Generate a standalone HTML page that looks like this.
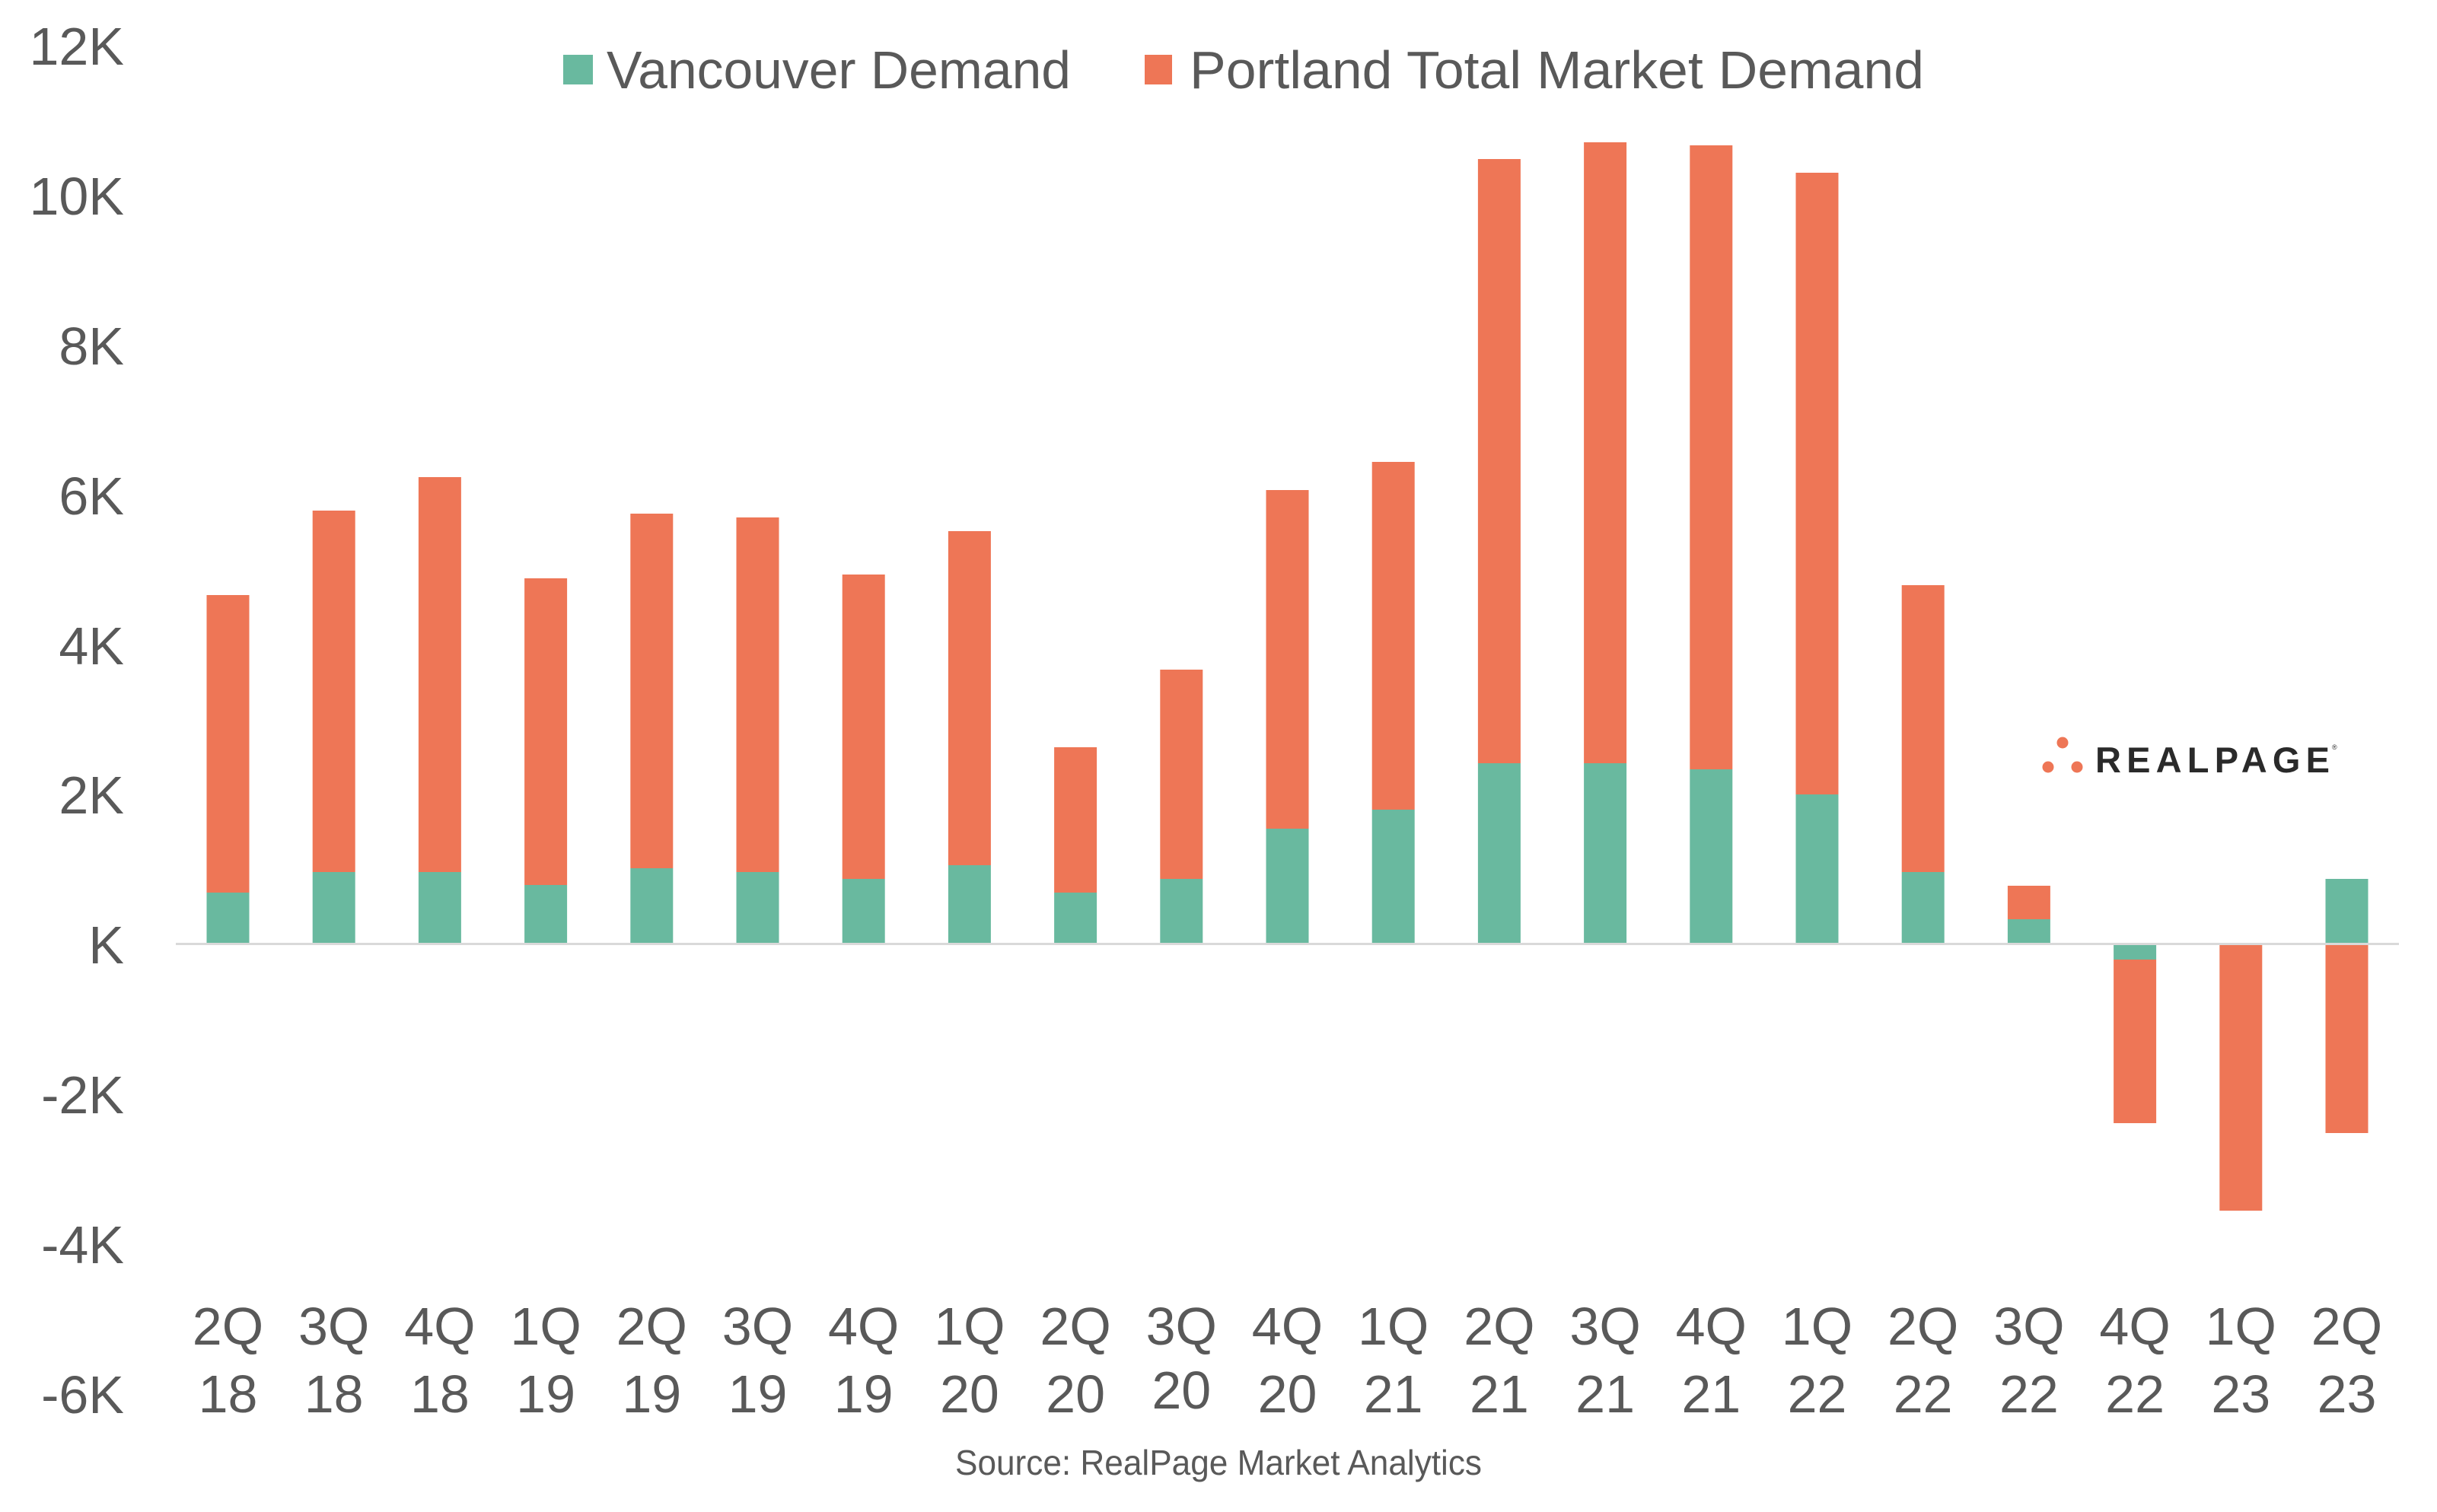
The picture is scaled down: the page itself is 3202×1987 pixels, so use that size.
<!DOCTYPE html>
<html><head><meta charset="utf-8"><style>
html,body{margin:0;padding:0;background:#fff;}
svg{display:block;}
text{font-family:"Liberation Sans",sans-serif;fill:#595959;}
</style></head><body>
<svg width="3202" height="1987" viewBox="0 0 3202 1987" xmlns="http://www.w3.org/2000/svg">
<rect width="3202" height="1987" fill="#fff"/>
<!-- legend -->
<rect x="740" y="72" width="39" height="39" fill="#69b99f"/>
<text x="797" y="116" font-size="70" textLength="610" lengthAdjust="spacingAndGlyphs">Vancouver Demand</text>
<rect x="1504" y="72" width="36" height="39" fill="#ee7656"/>
<text x="1563" y="116" font-size="70" textLength="965" lengthAdjust="spacingAndGlyphs">Portland Total Market Demand</text>
<!-- y labels -->
<g font-size="70" text-anchor="end">
<text x="163" y="85">12K</text>
<text x="163" y="282">10K</text>
<text x="163" y="479">8K</text>
<text x="163" y="676">6K</text>
<text x="163" y="873">4K</text>
<text x="163" y="1069">2K</text>
<text x="163" y="1266">K</text>
<text x="163" y="1463">-2K</text>
<text x="163" y="1660">-4K</text>
<text x="163" y="1857">-6K</text>
</g>
<!-- bars: x = 271.5 + 139.2 i, width 56 -->
<g fill="#ee7656">
<rect x="271.5" y="782" width="56" height="391"/>
<rect x="410.7" y="671" width="56" height="475"/>
<rect x="549.9" y="627" width="56" height="519"/>
<rect x="689.1" y="760" width="56" height="403"/>
<rect x="828.3" y="675" width="56" height="466"/>
<rect x="967.5" y="680" width="56" height="466"/>
<rect x="1106.7" y="755" width="56" height="400"/>
<rect x="1245.9" y="698" width="56" height="439"/>
<rect x="1385.1" y="982" width="56" height="191"/>
<rect x="1524.3" y="880" width="56" height="275"/>
<rect x="1663.5" y="644" width="56" height="445"/>
<rect x="1802.7" y="607" width="56" height="457"/>
<rect x="1941.9" y="209" width="56" height="794"/>
<rect x="2081.1" y="187" width="56" height="816"/>
<rect x="2220.3" y="191" width="56" height="820"/>
<rect x="2359.5" y="227" width="56" height="817"/>
<rect x="2498.7" y="769" width="56" height="377"/>
<rect x="2637.9" y="1164" width="56" height="44"/>
<rect x="2777.1" y="1261" width="56" height="215"/>
<rect x="2916.3" y="1241" width="56" height="350"/>
<rect x="3055.5" y="1241" width="56" height="248"/>
</g>
<g fill="#69b99f">
<rect x="271.5" y="1173" width="56" height="68"/>
<rect x="410.7" y="1146" width="56" height="95"/>
<rect x="549.9" y="1146" width="56" height="95"/>
<rect x="689.1" y="1163" width="56" height="78"/>
<rect x="828.3" y="1141" width="56" height="100"/>
<rect x="967.5" y="1146" width="56" height="95"/>
<rect x="1106.7" y="1155" width="56" height="86"/>
<rect x="1245.9" y="1137" width="56" height="104"/>
<rect x="1385.1" y="1173" width="56" height="68"/>
<rect x="1524.3" y="1155" width="56" height="86"/>
<rect x="1663.5" y="1089" width="56" height="152"/>
<rect x="1802.7" y="1064" width="56" height="177"/>
<rect x="1941.9" y="1003" width="56" height="238"/>
<rect x="2081.1" y="1003" width="56" height="238"/>
<rect x="2220.3" y="1011" width="56" height="230"/>
<rect x="2359.5" y="1044" width="56" height="197"/>
<rect x="2498.7" y="1146" width="56" height="95"/>
<rect x="2637.9" y="1208" width="56" height="33"/>
<rect x="2777.1" y="1241" width="56" height="20"/>
<rect x="3055.5" y="1155" width="56" height="86"/>
</g>
<rect x="231" y="1239" width="2921" height="3" fill="#d9d9d9"/>
<!-- x labels -->
<g font-size="70" text-anchor="middle">
<text x="299.5" y="1767">2Q</text><text x="299.5" y="1856">18</text>
<text x="438.7" y="1767">3Q</text><text x="438.7" y="1856">18</text>
<text x="577.9" y="1767">4Q</text><text x="577.9" y="1856">18</text>
<text x="717.1" y="1767">1Q</text><text x="717.1" y="1856">19</text>
<text x="856.3" y="1767">2Q</text><text x="856.3" y="1856">19</text>
<text x="995.5" y="1767">3Q</text><text x="995.5" y="1856">19</text>
<text x="1134.7" y="1767">4Q</text><text x="1134.7" y="1856">19</text>
<text x="1273.9" y="1767">1Q</text><text x="1273.9" y="1856">20</text>
<text x="1413.1" y="1767">2Q</text><text x="1413.1" y="1856">20</text>
<text x="1552.3" y="1767">3Q</text><text x="1552.3" y="1851">20</text>
<text x="1691.5" y="1767">4Q</text><text x="1691.5" y="1856">20</text>
<text x="1830.7" y="1767">1Q</text><text x="1830.7" y="1856">21</text>
<text x="1969.9" y="1767">2Q</text><text x="1969.9" y="1856">21</text>
<text x="2109.1" y="1767">3Q</text><text x="2109.1" y="1856">21</text>
<text x="2248.3" y="1767">4Q</text><text x="2248.3" y="1856">21</text>
<text x="2387.5" y="1767">1Q</text><text x="2387.5" y="1856">22</text>
<text x="2526.7" y="1767">2Q</text><text x="2526.7" y="1856">22</text>
<text x="2665.9" y="1767">3Q</text><text x="2665.9" y="1856">22</text>
<text x="2805.1" y="1767">4Q</text><text x="2805.1" y="1856">22</text>
<text x="2944.3" y="1767">1Q</text><text x="2944.3" y="1856">23</text>
<text x="3083.5" y="1767">2Q</text><text x="3083.5" y="1856">23</text>
</g>
<text x="1255" y="1938" font-size="46" textLength="692" lengthAdjust="spacingAndGlyphs">Source: RealPage Market Analytics</text>
<!-- logo -->
<circle cx="2710" cy="976" r="7.5" fill="#ee7656"/>
<circle cx="2691" cy="1008" r="7.5" fill="#ee7656"/>
<circle cx="2729" cy="1008" r="7.5" fill="#ee7656"/>
<text x="2753" y="1015" font-size="47" font-weight="bold" style="fill:#2a2a2a" textLength="308" lengthAdjust="spacing">REALPAGE</text>
<text x="3064" y="985" font-size="9" style="fill:#2a2a2a">®</text>
</svg>
</body></html>
